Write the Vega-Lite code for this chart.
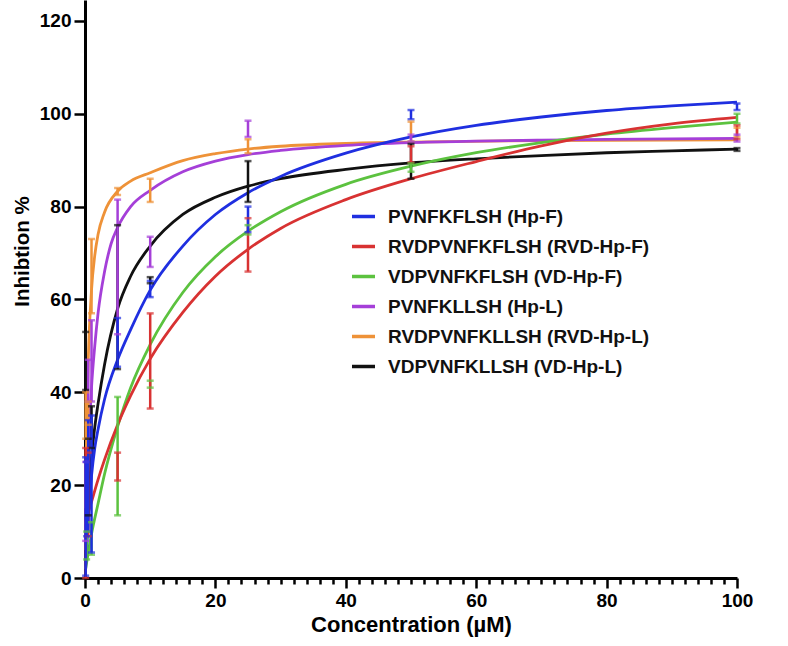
{
  "$schema": "https://vega.github.io/schema/vega-lite/v6.json",
  "width": 652,
  "height": 578,
  "autosize": "none",
  "padding": {"left": 85, "top": 0, "right": 51, "bottom": 68},
  "background": "white",
  "config": {"view": {"stroke": null}, "font": "Liberation Sans"},
  "datasets": {
    "curves": [
      {"s": "VDPVNFKLLSH (VD-Hp-L)", "x": 0.1, "y": 3},
      {"s": "VDPVNFKLLSH (VD-Hp-L)", "x": 0.25, "y": 8},
      {"s": "VDPVNFKLLSH (VD-Hp-L)", "x": 0.5, "y": 15},
      {"s": "VDPVNFKLLSH (VD-Hp-L)", "x": 1, "y": 26},
      {"s": "VDPVNFKLLSH (VD-Hp-L)", "x": 1.5, "y": 32.5},
      {"s": "VDPVNFKLLSH (VD-Hp-L)", "x": 2, "y": 37.5},
      {"s": "VDPVNFKLLSH (VD-Hp-L)", "x": 3, "y": 46},
      {"s": "VDPVNFKLLSH (VD-Hp-L)", "x": 5, "y": 58},
      {"s": "VDPVNFKLLSH (VD-Hp-L)", "x": 7, "y": 65},
      {"s": "VDPVNFKLLSH (VD-Hp-L)", "x": 10, "y": 71.5},
      {"s": "VDPVNFKLLSH (VD-Hp-L)", "x": 15, "y": 78.3},
      {"s": "VDPVNFKLLSH (VD-Hp-L)", "x": 20, "y": 82},
      {"s": "VDPVNFKLLSH (VD-Hp-L)", "x": 25, "y": 84.4},
      {"s": "VDPVNFKLLSH (VD-Hp-L)", "x": 30, "y": 86},
      {"s": "VDPVNFKLLSH (VD-Hp-L)", "x": 40, "y": 88},
      {"s": "VDPVNFKLLSH (VD-Hp-L)", "x": 50, "y": 89.4},
      {"s": "VDPVNFKLLSH (VD-Hp-L)", "x": 60, "y": 90.3},
      {"s": "VDPVNFKLLSH (VD-Hp-L)", "x": 70, "y": 91},
      {"s": "VDPVNFKLLSH (VD-Hp-L)", "x": 80, "y": 91.6},
      {"s": "VDPVNFKLLSH (VD-Hp-L)", "x": 90, "y": 92},
      {"s": "VDPVNFKLLSH (VD-Hp-L)", "x": 100, "y": 92.4},

      {"s": "RVDPVNFKLLSH (RVD-Hp-L)", "x": 0.1, "y": 15},
      {"s": "RVDPVNFKLLSH (RVD-Hp-L)", "x": 0.25, "y": 32},
      {"s": "RVDPVNFKLLSH (RVD-Hp-L)", "x": 0.5, "y": 47},
      {"s": "RVDPVNFKLLSH (RVD-Hp-L)", "x": 1, "y": 62},
      {"s": "RVDPVNFKLLSH (RVD-Hp-L)", "x": 1.5, "y": 69.5},
      {"s": "RVDPVNFKLLSH (RVD-Hp-L)", "x": 2, "y": 74},
      {"s": "RVDPVNFKLLSH (RVD-Hp-L)", "x": 3, "y": 78.8},
      {"s": "RVDPVNFKLLSH (RVD-Hp-L)", "x": 5, "y": 83.3},
      {"s": "RVDPVNFKLLSH (RVD-Hp-L)", "x": 7, "y": 85.5},
      {"s": "RVDPVNFKLLSH (RVD-Hp-L)", "x": 10, "y": 87.3},
      {"s": "RVDPVNFKLLSH (RVD-Hp-L)", "x": 15, "y": 89.9},
      {"s": "RVDPVNFKLLSH (RVD-Hp-L)", "x": 20, "y": 91.4},
      {"s": "RVDPVNFKLLSH (RVD-Hp-L)", "x": 25, "y": 92.4},
      {"s": "RVDPVNFKLLSH (RVD-Hp-L)", "x": 30, "y": 93},
      {"s": "RVDPVNFKLLSH (RVD-Hp-L)", "x": 40, "y": 93.6},
      {"s": "RVDPVNFKLLSH (RVD-Hp-L)", "x": 50, "y": 93.9},
      {"s": "RVDPVNFKLLSH (RVD-Hp-L)", "x": 70, "y": 94.2},
      {"s": "RVDPVNFKLLSH (RVD-Hp-L)", "x": 100, "y": 94.4},

      {"s": "PVNFKLLSH (Hp-L)", "x": 0.1, "y": 6},
      {"s": "PVNFKLLSH (Hp-L)", "x": 0.25, "y": 15},
      {"s": "PVNFKLLSH (Hp-L)", "x": 0.5, "y": 26},
      {"s": "PVNFKLLSH (Hp-L)", "x": 1, "y": 41},
      {"s": "PVNFKLLSH (Hp-L)", "x": 1.5, "y": 50},
      {"s": "PVNFKLLSH (Hp-L)", "x": 2, "y": 57},
      {"s": "PVNFKLLSH (Hp-L)", "x": 3, "y": 66},
      {"s": "PVNFKLLSH (Hp-L)", "x": 4, "y": 72},
      {"s": "PVNFKLLSH (Hp-L)", "x": 5, "y": 75.5},
      {"s": "PVNFKLLSH (Hp-L)", "x": 7, "y": 80},
      {"s": "PVNFKLLSH (Hp-L)", "x": 10, "y": 83.5},
      {"s": "PVNFKLLSH (Hp-L)", "x": 15, "y": 87.5},
      {"s": "PVNFKLLSH (Hp-L)", "x": 20, "y": 89.8},
      {"s": "PVNFKLLSH (Hp-L)", "x": 25, "y": 91.2},
      {"s": "PVNFKLLSH (Hp-L)", "x": 30, "y": 92.1},
      {"s": "PVNFKLLSH (Hp-L)", "x": 40, "y": 93.2},
      {"s": "PVNFKLLSH (Hp-L)", "x": 50, "y": 93.8},
      {"s": "PVNFKLLSH (Hp-L)", "x": 60, "y": 94.1},
      {"s": "PVNFKLLSH (Hp-L)", "x": 70, "y": 94.3},
      {"s": "PVNFKLLSH (Hp-L)", "x": 80, "y": 94.5},
      {"s": "PVNFKLLSH (Hp-L)", "x": 90, "y": 94.6},
      {"s": "PVNFKLLSH (Hp-L)", "x": 100, "y": 94.7},

      {"s": "VDPVNFKFLSH (VD-Hp-F)", "x": 0.1, "y": 2},
      {"s": "VDPVNFKFLSH (VD-Hp-F)", "x": 0.5, "y": 5.5},
      {"s": "VDPVNFKFLSH (VD-Hp-F)", "x": 1, "y": 9.5},
      {"s": "VDPVNFKFLSH (VD-Hp-F)", "x": 2, "y": 16},
      {"s": "VDPVNFKFLSH (VD-Hp-F)", "x": 3, "y": 22.4},
      {"s": "VDPVNFKFLSH (VD-Hp-F)", "x": 5, "y": 32.6},
      {"s": "VDPVNFKFLSH (VD-Hp-F)", "x": 7, "y": 41},
      {"s": "VDPVNFKFLSH (VD-Hp-F)", "x": 10, "y": 50.3},
      {"s": "VDPVNFKFLSH (VD-Hp-F)", "x": 15, "y": 61.5},
      {"s": "VDPVNFKFLSH (VD-Hp-F)", "x": 20, "y": 69.2},
      {"s": "VDPVNFKFLSH (VD-Hp-F)", "x": 25, "y": 74.7},
      {"s": "VDPVNFKFLSH (VD-Hp-F)", "x": 30, "y": 78.9},
      {"s": "VDPVNFKFLSH (VD-Hp-F)", "x": 40, "y": 84.8},
      {"s": "VDPVNFKFLSH (VD-Hp-F)", "x": 50, "y": 88.7},
      {"s": "VDPVNFKFLSH (VD-Hp-F)", "x": 60, "y": 91.6},
      {"s": "VDPVNFKFLSH (VD-Hp-F)", "x": 70, "y": 93.8},
      {"s": "VDPVNFKFLSH (VD-Hp-F)", "x": 80, "y": 95.6},
      {"s": "VDPVNFKFLSH (VD-Hp-F)", "x": 90, "y": 97},
      {"s": "VDPVNFKFLSH (VD-Hp-F)", "x": 100, "y": 98.2},

      {"s": "RVDPVNFKFLSH (RVD-Hp-F)", "x": 0.1, "y": 11.5},
      {"s": "RVDPVNFKFLSH (RVD-Hp-F)", "x": 0.5, "y": 14},
      {"s": "RVDPVNFKFLSH (RVD-Hp-F)", "x": 1, "y": 16.4},
      {"s": "RVDPVNFKFLSH (RVD-Hp-F)", "x": 2, "y": 21.2},
      {"s": "RVDPVNFKFLSH (RVD-Hp-F)", "x": 3, "y": 25.5},
      {"s": "RVDPVNFKFLSH (RVD-Hp-F)", "x": 5, "y": 33},
      {"s": "RVDPVNFKFLSH (RVD-Hp-F)", "x": 7, "y": 39.3},
      {"s": "RVDPVNFKFLSH (RVD-Hp-F)", "x": 10, "y": 47.2},
      {"s": "RVDPVNFKFLSH (RVD-Hp-F)", "x": 15, "y": 57.2},
      {"s": "RVDPVNFKFLSH (RVD-Hp-F)", "x": 20, "y": 65},
      {"s": "RVDPVNFKFLSH (RVD-Hp-F)", "x": 25, "y": 70.8},
      {"s": "RVDPVNFKFLSH (RVD-Hp-F)", "x": 30, "y": 75.3},
      {"s": "RVDPVNFKFLSH (RVD-Hp-F)", "x": 40, "y": 81.5},
      {"s": "RVDPVNFKFLSH (RVD-Hp-F)", "x": 50, "y": 86},
      {"s": "RVDPVNFKFLSH (RVD-Hp-F)", "x": 60, "y": 89.7},
      {"s": "RVDPVNFKFLSH (RVD-Hp-F)", "x": 70, "y": 93.1},
      {"s": "RVDPVNFKFLSH (RVD-Hp-F)", "x": 80, "y": 95.8},
      {"s": "RVDPVNFKFLSH (RVD-Hp-F)", "x": 90, "y": 97.8},
      {"s": "RVDPVNFKFLSH (RVD-Hp-F)", "x": 100, "y": 99.2},

      {"s": "PVNFKFLSH (Hp-F)", "x": 0.1, "y": 2},
      {"s": "PVNFKFLSH (Hp-F)", "x": 0.25, "y": 6},
      {"s": "PVNFKFLSH (Hp-F)", "x": 0.5, "y": 13},
      {"s": "PVNFKFLSH (Hp-F)", "x": 1, "y": 22},
      {"s": "PVNFKFLSH (Hp-F)", "x": 1.5, "y": 28},
      {"s": "PVNFKFLSH (Hp-F)", "x": 2, "y": 32},
      {"s": "PVNFKFLSH (Hp-F)", "x": 3, "y": 38.5},
      {"s": "PVNFKFLSH (Hp-F)", "x": 5, "y": 47},
      {"s": "PVNFKFLSH (Hp-F)", "x": 7, "y": 53.5},
      {"s": "PVNFKFLSH (Hp-F)", "x": 10, "y": 62},
      {"s": "PVNFKFLSH (Hp-F)", "x": 15, "y": 71.5},
      {"s": "PVNFKFLSH (Hp-F)", "x": 20, "y": 78.3},
      {"s": "PVNFKFLSH (Hp-F)", "x": 25, "y": 83},
      {"s": "PVNFKFLSH (Hp-F)", "x": 30, "y": 86.5},
      {"s": "PVNFKFLSH (Hp-F)", "x": 40, "y": 91.5},
      {"s": "PVNFKFLSH (Hp-F)", "x": 50, "y": 95},
      {"s": "PVNFKFLSH (Hp-F)", "x": 60, "y": 97.5},
      {"s": "PVNFKFLSH (Hp-F)", "x": 70, "y": 99.3},
      {"s": "PVNFKFLSH (Hp-F)", "x": 80, "y": 100.7},
      {"s": "PVNFKFLSH (Hp-F)", "x": 90, "y": 101.7},
      {"s": "PVNFKFLSH (Hp-F)", "x": 100, "y": 102.5}
    ],
    "bars": [
      {"s": "VDPVNFKLLSH (VD-Hp-L)", "x": 0.1, "lo": 40.5, "hi": 53},
      {"s": "VDPVNFKLLSH (VD-Hp-L)", "x": 0.5, "lo": 13.5, "hi": 30},
      {"s": "VDPVNFKLLSH (VD-Hp-L)", "x": 1, "lo": 28, "hi": 37},
      {"s": "VDPVNFKLLSH (VD-Hp-L)", "x": 5, "lo": 45, "hi": 76},
      {"s": "VDPVNFKLLSH (VD-Hp-L)", "x": 10, "lo": 63.5, "hi": 64.8},
      {"s": "VDPVNFKLLSH (VD-Hp-L)", "x": 25, "lo": 81, "hi": 89.8},
      {"s": "VDPVNFKLLSH (VD-Hp-L)", "x": 50, "lo": 86, "hi": 93.5},
      {"s": "VDPVNFKLLSH (VD-Hp-L)", "x": 100, "lo": 92, "hi": 92.6},

      {"s": "RVDPVNFKLLSH (RVD-Hp-L)", "x": 0.1, "lo": 30, "hi": 40},
      {"s": "RVDPVNFKLLSH (RVD-Hp-L)", "x": 0.5, "lo": 33, "hi": 38},
      {"s": "RVDPVNFKLLSH (RVD-Hp-L)", "x": 1, "lo": 57, "hi": 73},
      {"s": "RVDPVNFKLLSH (RVD-Hp-L)", "x": 5, "lo": 82.5, "hi": 84},
      {"s": "RVDPVNFKLLSH (RVD-Hp-L)", "x": 10, "lo": 81, "hi": 86},
      {"s": "RVDPVNFKLLSH (RVD-Hp-L)", "x": 25, "lo": 91.5, "hi": 94.5},
      {"s": "RVDPVNFKLLSH (RVD-Hp-L)", "x": 50, "lo": 94, "hi": 98.3},
      {"s": "RVDPVNFKLLSH (RVD-Hp-L)", "x": 100, "lo": 95, "hi": 97},

      {"s": "PVNFKLLSH (Hp-L)", "x": 0.1, "lo": 8, "hi": 25},
      {"s": "PVNFKLLSH (Hp-L)", "x": 0.5, "lo": 38, "hi": 47},
      {"s": "PVNFKLLSH (Hp-L)", "x": 1, "lo": 38, "hi": 55.5},
      {"s": "PVNFKLLSH (Hp-L)", "x": 5, "lo": 52.5, "hi": 81.5},
      {"s": "PVNFKLLSH (Hp-L)", "x": 10, "lo": 67, "hi": 73.5},
      {"s": "PVNFKLLSH (Hp-L)", "x": 25, "lo": 95, "hi": 98.5},
      {"s": "PVNFKLLSH (Hp-L)", "x": 50, "lo": 94, "hi": 95.5},
      {"s": "PVNFKLLSH (Hp-L)", "x": 100, "lo": 94, "hi": 95.5},

      {"s": "VDPVNFKFLSH (VD-Hp-F)", "x": 0.25, "lo": 4, "hi": 10},
      {"s": "VDPVNFKFLSH (VD-Hp-F)", "x": 1, "lo": 5, "hi": 12},
      {"s": "VDPVNFKFLSH (VD-Hp-F)", "x": 5, "lo": 13.5, "hi": 39},
      {"s": "VDPVNFKFLSH (VD-Hp-F)", "x": 10, "lo": 41, "hi": 42.5},
      {"s": "VDPVNFKFLSH (VD-Hp-F)", "x": 25, "lo": 74, "hi": 76},
      {"s": "VDPVNFKFLSH (VD-Hp-F)", "x": 50, "lo": 87.5, "hi": 89.3},
      {"s": "VDPVNFKFLSH (VD-Hp-F)", "x": 100, "lo": 97.9, "hi": 100},

      {"s": "RVDPVNFKFLSH (RVD-Hp-F)", "x": 0.1, "lo": 0, "hi": 28},
      {"s": "RVDPVNFKFLSH (RVD-Hp-F)", "x": 0.5, "lo": 9, "hi": 27},
      {"s": "RVDPVNFKFLSH (RVD-Hp-F)", "x": 5, "lo": 21, "hi": 27},
      {"s": "RVDPVNFKFLSH (RVD-Hp-F)", "x": 10, "lo": 36.5, "hi": 57},
      {"s": "RVDPVNFKFLSH (RVD-Hp-F)", "x": 25, "lo": 66, "hi": 77.5},
      {"s": "RVDPVNFKFLSH (RVD-Hp-F)", "x": 50, "lo": 89.5, "hi": 93},
      {"s": "RVDPVNFKFLSH (RVD-Hp-F)", "x": 100, "lo": 94.5, "hi": 97.5},

      {"s": "PVNFKFLSH (Hp-F)", "x": 0.1, "lo": 0.5, "hi": 26},
      {"s": "PVNFKFLSH (Hp-F)", "x": 0.25, "lo": 9, "hi": 25},
      {"s": "PVNFKFLSH (Hp-F)", "x": 0.5, "lo": 10, "hi": 34},
      {"s": "PVNFKFLSH (Hp-F)", "x": 1, "lo": 5.5, "hi": 35},
      {"s": "PVNFKFLSH (Hp-F)", "x": 5, "lo": 45.5, "hi": 56},
      {"s": "PVNFKFLSH (Hp-F)", "x": 10, "lo": 60.5, "hi": 64},
      {"s": "PVNFKFLSH (Hp-F)", "x": 25, "lo": 74.5, "hi": 80},
      {"s": "PVNFKFLSH (Hp-F)", "x": 50, "lo": 98.8, "hi": 100.8},
      {"s": "PVNFKFLSH (Hp-F)", "x": 100, "lo": 100.8, "hi": 102.2}
    ]
  },
  "resolve": {"axis": {"x": "independent"}},
  "layer": [
    {
      "data": {"name": "curves"},
      "mark": {"type": "line", "strokeWidth": 2.8, "interpolate": "monotone"},
      "encoding": {
        "x": {
          "field": "x", "type": "quantitative",
          "scale": {"domain": [0, 100], "nice": false},
          "axis": {
            "orient": "bottom",
            "values": [0, 20, 40, 60, 80, 100],
            "tickSize": 10, "tickWidth": 2.5, "tickColor": "#000",
            "domainWidth": 3, "domainColor": "#000",
            "grid": false,
            "labelFont": "Liberation Sans", "labelFontWeight": "bold", "labelFontSize": 19, "labelColor": "#000",
            "labelPadding": 3, "labelOverlap": false, "labelFlush": false,
            "title": "Concentration (µM)",
            "titleFont": "Liberation Sans", "titleFontWeight": "bold", "titleFontSize": 22, "titleColor": "#000",
            "titlePadding": 4
          }
        },
        "y": {
          "field": "y", "type": "quantitative",
          "scale": {"domain": [0, 124.5], "nice": false},
          "axis": {
            "values": [0, 20, 40, 60, 80, 100, 120],
            "tickSize": 11, "tickWidth": 2.5, "tickColor": "#000",
            "domainWidth": 3, "domainColor": "#000",
            "grid": false,
            "labelFont": "Liberation Sans", "labelFontWeight": "bold", "labelFontSize": 19, "labelColor": "#000",
            "labelPadding": 3,
            "title": "Inhibtion %",
            "titleFont": "Liberation Sans", "titleFontWeight": "bold", "titleFontSize": 20.5, "titleColor": "#000",
            "titleX": -63, "titleY": 251, "titleAngle": -90, "titleAlign": "center", "titleBaseline": "middle"
          }
        },
        "color": {
          "field": "s", "type": "nominal",
          "sort": ["PVNFKFLSH (Hp-F)", "RVDPVNFKFLSH (RVD-Hp-F)", "VDPVNFKFLSH (VD-Hp-F)", "PVNFKLLSH (Hp-L)", "RVDPVNFKLLSH (RVD-Hp-L)", "VDPVNFKLLSH (VD-Hp-L)"],
          "scale": {
            "domain": ["PVNFKFLSH (Hp-F)", "RVDPVNFKFLSH (RVD-Hp-F)", "VDPVNFKFLSH (VD-Hp-F)", "PVNFKLLSH (Hp-L)", "RVDPVNFKLLSH (RVD-Hp-L)", "VDPVNFKLLSH (VD-Hp-L)"],
            "range": ["#1f2fe0", "#d83232", "#5cc23f", "#a53fd8", "#ee9238", "#111111"]
          },
          "legend": {
            "orient": "none", "legendX": 265, "legendY": 203, "title": null,
            "symbolType": "stroke", "symbolSize": 529, "symbolStrokeWidth": 3.5,
            "labelFont": "Liberation Sans", "labelFontWeight": "bold", "labelFontSize": 19, "labelColor": "#111",
            "labelOffset": 11, "rowPadding": 6, "padding": 0, "labelLimit": 400
          }
        }
      }
    },
    {
      "data": {"name": "bars"},
      "mark": {"type": "rule", "strokeWidth": 2.5},
      "encoding": {
        "x": {
          "field": "x", "type": "quantitative",
          "axis": {
            "orient": "bottom",
            "values": [2,4,6,8,10,12,14,16,18,22,24,26,28,30,32,34,36,38,42,44,46,48,50,52,54,56,58,62,64,66,68,70,72,74,76,78,82,84,86,88,90,92,94,96,98],
            "tickSize": 6, "tickWidth": 2.5, "tickColor": "#000",
            "domain": false, "grid": false, "labels": false, "title": null
          }
        },
        "y": {"field": "lo", "type": "quantitative"},
        "y2": {"field": "hi"},
        "color": {"field": "s", "type": "nominal", "legend": null},
        "order": {"field": "s", "sort": "descending"}
      }
    },
    {
      "data": {"name": "bars"},
      "mark": {"type": "tick", "orient": "horizontal", "size": 7, "thickness": 2.5},
      "encoding": {
        "x": {"field": "x", "type": "quantitative", "axis": null},
        "y": {"field": "lo", "type": "quantitative"},
        "color": {"field": "s", "type": "nominal", "legend": null},
        "order": {"field": "s", "sort": "descending"}
      }
    },
    {
      "data": {"name": "bars"},
      "mark": {"type": "tick", "orient": "horizontal", "size": 7, "thickness": 2.5},
      "encoding": {
        "x": {"field": "x", "type": "quantitative", "axis": null},
        "y": {"field": "hi", "type": "quantitative"},
        "color": {"field": "s", "type": "nominal", "legend": null},
        "order": {"field": "s", "sort": "descending"}
      }
    }
  ]
}
